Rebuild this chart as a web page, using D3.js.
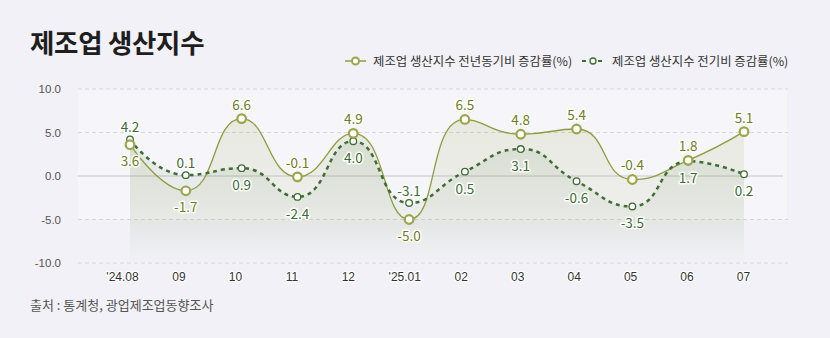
<!DOCTYPE html>
<html><head><meta charset="utf-8">
<script src="https://cdn.jsdelivr.net/npm/d3@7/dist/d3.min.js"></script>
<style>
html,body{margin:0;padding:0;background:#f2f1f7;}
svg{display:block;font-family:"Noto Sans CJK KR","Noto Sans",sans-serif;}
</style></head>
<body>
<svg id="c" width="830" height="338"></svg>
<script>
const categories = ["'24.08","09","10","11","12","'25.01","02","03","04","05","06","07"];
const yoyValues = [3.6,-1.7,6.6,-0.1,4.9,-5.0,6.5,4.8,5.4,-0.4,1.8,5.1];
const momValues = [4.2,0.1,0.9,-2.4,4.0,-3.1,0.5,3.1,-0.6,-3.5,1.7,0.2];
const yoyLabelPos = ["b","b","t","t","t","b","t","t","t","t","t","t"];
const momLabelPos = ["t","t","b","b","b","t","b","b","b","b","b","b"];
const yTicks = [10,5,0,-5,-10];
const seriesNames = ["제조업 생산지수 전년동기비 증감률(%)","제조업 생산지수 전기비 증감률(%)"];
const titleText = "제조업 생산지수";
const sourceText = "출처 : 통계청, 광업제조업동향조사";

const C1 = "#8e9c3e", C1t = "#6f7d1c", C2 = "#3f6d34", C2t = "#3d6a33";
const fmt = d => d3.format(".1f")(d).replace("\u2212", "-");
const svg = d3.select("#c");
const x = d3.scalePoint().domain(categories).range([130, 744]);
const xLab = d3.scalePoint().domain(categories).range([122, 743]);
const y = d3.scaleLinear().domain([-10, 10]).range([263, 89]);

// ECharts-like smooth path
function smoothPath(pts, smooth) {
  const p = d3.path();
  let prevX, prevY, cpx0, cpy0, cpx1, cpy1;
  for (let i = 0; i < pts.length; i++) {
    const [xx, yy] = pts[i];
    if (i === 0) { p.moveTo(xx, yy); cpx0 = xx; cpy0 = yy; }
    else {
      let nextCpx0, nextCpy0;
      if (i === pts.length - 1) { cpx1 = xx; cpy1 = yy; }
      else {
        const [nx, ny] = pts[i + 1];
        let vx = nx - prevX, vy = ny - prevY;
        const dx0 = xx - prevX, dx1 = nx - xx, dy0 = yy - prevY, dy1 = ny - yy;
        const lp = Math.hypot(dx0, dy0), ln = Math.hypot(dx1, dy1);
        const r = ln / (ln + lp);
        nextCpx0 = xx + vx * smooth * r; nextCpy0 = yy + vy * smooth * r;
        nextCpx0 = Math.max(Math.min(nextCpx0, Math.max(nx, xx)), Math.min(nx, xx));
        nextCpy0 = Math.max(Math.min(nextCpy0, Math.max(ny, yy)), Math.min(ny, yy));
        vx = nextCpx0 - xx; vy = nextCpy0 - yy;
        cpx1 = xx - vx * lp / ln; cpy1 = yy - vy * lp / ln;
        cpx1 = Math.max(Math.min(cpx1, Math.max(prevX, xx)), Math.min(prevX, xx));
        cpy1 = Math.max(Math.min(cpy1, Math.max(prevY, yy)), Math.min(prevY, yy));
        vx = xx - cpx1; vy = yy - cpy1;
        nextCpx0 = xx + vx * ln / lp; nextCpy0 = yy + vy * ln / lp;
      }
      p.bezierCurveTo(cpx0, cpy0, cpx1, cpy1, xx, yy);
      cpx0 = nextCpx0; cpy0 = nextCpy0;
    }
    prevX = xx; prevY = yy;
  }
  return p.toString();
}
const pts1 = categories.map((c, i) => [x(c), y(yoyValues[i])]);
const pts2 = categories.map((c, i) => [x(c), y(momValues[i])]);
const areaPath = pts => smoothPath(pts, 0.5) + `L${pts[pts.length-1][0]},${y(-10)}L${pts[0][0]},${y(-10)}Z`;

const defs = svg.append("defs");
function grad(id, col, op) {
  const g = defs.append("linearGradient").attr("id", id).attr("x1",0).attr("y1",0).attr("x2",0).attr("y2",1);
  g.append("stop").attr("offset","0%").attr("stop-color",col).attr("stop-opacity",op);
  g.append("stop").attr("offset","60%").attr("stop-color",col).attr("stop-opacity",op*0.55);
  g.append("stop").attr("offset","100%").attr("stop-color",col).attr("stop-opacity",0);
}
grad("g1", "#8e9c3e", 0.14);
grad("g2", "#3f6d34", 0.10);

// title
svg.append("text").attr("x", 30).attr("y", 53).attr("font-size", 26.5).attr("font-weight", 700)
  .attr("fill", "#1e1e1e").attr("letter-spacing", "-0.3").text(titleText);

// plot background
svg.append("rect").attr("x", 78).attr("y", y(10)).attr("width", 709).attr("height", y(-5) - y(10)).attr("fill", "#f6f5fa");

// grid
svg.append("g").selectAll("line").data(yTicks.filter(d => d !== 0)).join("line")
  .attr("x1", 78).attr("x2", 788).attr("y1", d => y(d)).attr("y2", d => y(d))
  .attr("stroke", "#d6d6dc").attr("stroke-dasharray", "4,3");
svg.append("line").attr("x1", 78).attr("x2", 783).attr("y1", y(0)).attr("y2", y(0)).attr("stroke", "#c6c6cc");

// y axis
const yAxis = svg.append("g").attr("transform", "translate(61,0)")
  .call(d3.axisLeft(y).tickValues(yTicks).tickSize(0).tickPadding(0).tickFormat(fmt));
yAxis.select(".domain").remove();
yAxis.selectAll("text").attr("font-size", 11.5).attr("fill", "#555").attr("font-family", "inherit");

// x axis
const xAxis = svg.append("g").attr("transform", "translate(0,272)")
  .call(d3.axisBottom(xLab).tickSize(0).tickPadding(0));
xAxis.select(".domain").remove();
xAxis.selectAll("text").attr("font-size", 12).attr("fill", "#333").attr("font-family", "inherit")
  .attr("stroke", "#fff").attr("stroke-width", 2.5).attr("paint-order", "stroke").attr("stroke-linejoin", "round");

// areas
svg.append("path").attr("d", areaPath(pts1)).attr("fill", "url(#g1)");
svg.append("path").attr("d", areaPath(pts2)).attr("fill", "url(#g2)");

// lines
svg.append("path").attr("d", smoothPath(pts1, 0.5)).attr("fill", "none").attr("stroke", C1).attr("stroke-width", 1.3);
svg.append("path").attr("d", smoothPath(pts2, 0.5)).attr("fill", "none").attr("stroke", C2).attr("stroke-width", 2.5).attr("stroke-dasharray", "4,4");

// markers
svg.append("g").selectAll("circle").data(pts2).join("circle")
  .attr("cx", d => d[0]).attr("cy", d => d[1]).attr("r", 3.3).attr("fill", "#fff").attr("stroke", C2).attr("stroke-width", 1.3);
svg.append("g").selectAll("circle").data(pts1).join("circle")
  .attr("cx", d => d[0]).attr("cy", d => d[1]).attr("r", 4.3).attr("fill", "#fff").attr("stroke", "#9aa64a").attr("stroke-width", 2.2);

// labels
function labels(vals, pos, col, upOff, downOff) {
  svg.append("g").selectAll("text").data(vals).join("text")
    .attr("x", (d, i) => x(categories[i]))
    .attr("y", (d, i) => y(d) + (pos[i] === "t" ? upOff : downOff))
    .attr("text-anchor", "middle").attr("font-size", 13.5).attr("fill", col)
    .attr("stroke", "#fff").attr("stroke-width", 3).attr("paint-order", "stroke").attr("stroke-linejoin", "round")
    .text(fmt);
}
labels(yoyValues, yoyLabelPos, C1t, -9, 21);
labels(momValues, momLabelPos, C2t, -7, 22);

// legend
const lg = svg.append("g").attr("font-size", 12.4).attr("fill", "#333");
lg.append("line").attr("x1", 345).attr("x2", 366).attr("y1", 61).attr("y2", 61).attr("stroke", C1).attr("stroke-width", 1.5);
lg.append("circle").attr("cx", 355.5).attr("cy", 61).attr("r", 3.5).attr("fill", "#fff").attr("stroke", "#9aa64a").attr("stroke-width", 2);
lg.append("text").attr("x", 373).attr("y", 65.5).text(seriesNames[0]);
lg.append("line").attr("x1", 582).attr("x2", 604).attr("y1", 61).attr("y2", 61).attr("stroke", C2).attr("stroke-width", 2).attr("stroke-dasharray", "4,4");
lg.append("circle").attr("cx", 593).attr("cy", 61).attr("r", 3).attr("fill", "#fff").attr("stroke", C2).attr("stroke-width", 1.3);
lg.append("text").attr("x", 612).attr("y", 65.5).text(seriesNames[1]);

// source
svg.append("text").attr("x", 30).attr("y", 310).attr("font-size", 13).attr("fill", "#555").text(sourceText);
</script>
</body></html>
